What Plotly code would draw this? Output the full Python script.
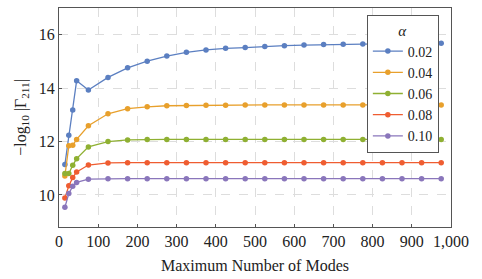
import plotly.graph_objects as go

modes = [15, 25, 35, 45, 75, 125, 175, 225, 275, 325, 375, 425, 475, 525, 575,
         625, 675, 725, 775, 825, 875, 925, 975]

alpha_002 = [11.14, 12.24, 13.18, 14.28, 13.93, 14.40, 14.76, 15.01, 15.20, 15.34,
             15.43, 15.49, 15.52, 15.56, 15.59, 15.61, 15.63, 15.64, 15.65, 15.66,
             15.66, 15.67, 15.68]
alpha_004 = [10.71, 11.84, 11.86, 12.08, 12.59, 13.04, 13.23, 13.30, 13.34, 13.35,
             13.36, 13.36, 13.37, 13.37, 13.37, 13.37, 13.37, 13.37, 13.37, 13.37,
             13.37, 13.37, 13.37]
alpha_006 = [10.80, 10.80, 11.11, 11.36, 11.80, 12.00, 12.06, 12.08, 12.08, 12.08,
             12.08, 12.08, 12.08, 12.08, 12.08, 12.08, 12.08, 12.08, 12.08, 12.08,
             12.08, 12.08, 12.08]
alpha_008 = [9.89, 10.34, 10.65, 10.86, 11.12, 11.20, 11.21, 11.21, 11.21, 11.21,
             11.21, 11.21, 11.21, 11.21, 11.21, 11.21, 11.21, 11.21, 11.21, 11.21,
             11.21, 11.21, 11.21]
alpha_010 = [9.54, 10.05, 10.33, 10.47, 10.59, 10.61, 10.61, 10.61, 10.61, 10.61,
             10.61, 10.61, 10.61, 10.61, 10.61, 10.61, 10.61, 10.61, 10.61, 10.61,
             10.61, 10.61, 10.61]

series_names = ["0.02", "0.04", "0.06", "0.08", "0.10"]
series_values = [alpha_002, alpha_004, alpha_006, alpha_008, alpha_010]
colors = ["#5b7fc1", "#e8a02c", "#8fb032", "#ef5d31", "#8a76bb"]

x_tickvals = [0, 100, 200, 300, 400, 500, 600, 700, 800, 900, 1000]
x_ticktext = ["0", "100", "200", "300", "400", "500", "600", "700", "800", "900", "1,000"]
y_tickvals = [10, 12, 14, 16]

FONT = "Liberation Serif, DejaVu Serif, serif"

fig = go.Figure()
for name, vals, col in zip(series_names, series_values, colors):
    fig.add_trace(go.Scatter(
        x=modes, y=vals, name=name, mode="lines+markers",
        line=dict(color=col, width=1.3),
        marker=dict(color=col, size=5.5),
    ))

axis_common = dict(
    showline=True, linecolor="#555555", linewidth=1, mirror=True,
    showgrid=True, gridcolor="#dddddd", griddash="dash", gridwidth=1,
    zeroline=False, ticks="inside", ticklen=3, tickcolor="#555555",
    tickfont=dict(family=FONT, size=16, color="#222222"),
    automargin=False,
)

fig.update_layout(
    width=482, height=279, autosize=False,
    margin=dict(l=59, r=31, t=8, b=52, pad=0),
    paper_bgcolor="white", plot_bgcolor="white",
    font=dict(family=FONT, color="#222222"),
    xaxis=dict(range=[0, 1000], tickvals=x_tickvals, ticktext=x_ticktext,
               title=dict(text="Maximum Number of Modes", font=dict(family=FONT, size=16),
                          standoff=10),
               **axis_common),
    yaxis=dict(range=[8.8, 17.0], tickvals=y_tickvals,
               title=dict(text="−log<sub>10</sub> |Γ<sub>211</sub>|",
                          font=dict(family=FONT, size=16), standoff=8),
               **axis_common),
    legend=dict(
        x=0.969, y=0.968, xanchor="right", yanchor="top",
        bgcolor="white", bordercolor="#555555", borderwidth=1,
        font=dict(family=FONT, size=14),
        title=dict(text="<i>α</i>", side="top center", font=dict(family=FONT, size=15)),
        itemwidth=30, tracegroupgap=0,
    ),
)

fig.write_html("out.html",
               config={"displayModeBar": False, "responsive": False},
               post_script="document.body.style.margin='0';")
